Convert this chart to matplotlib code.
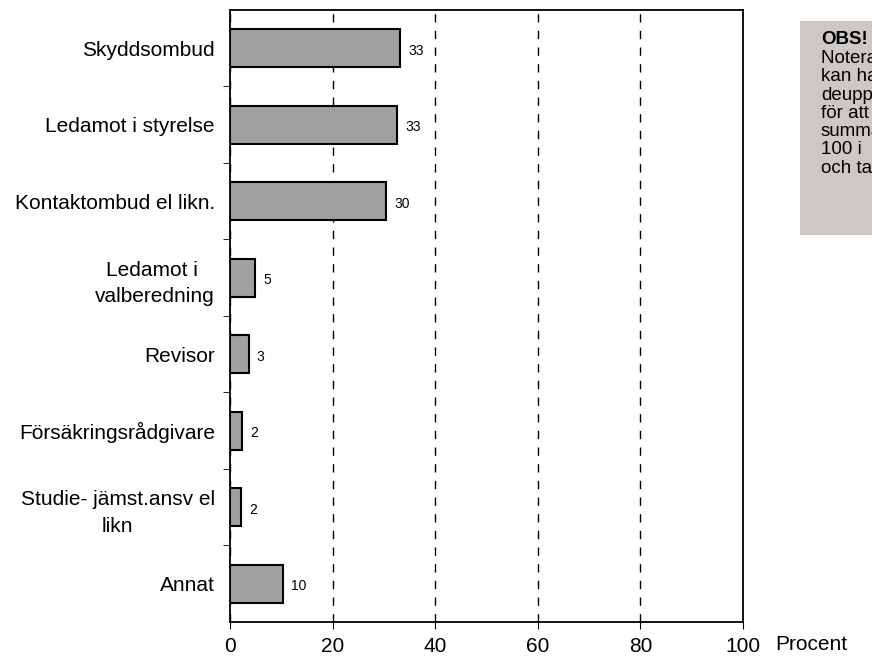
import numpy as np
import matplotlib.pyplot as plt
from matplotlib.patches import Rectangle

plt.rcParams['font.family'] = ['Liberation Sans', 'DejaVu Sans']

categories = ['Skyddsombud', 'Ledamot i styrelse', 'Kontaktombud el likn.',
              'Ledamot i \nvalberedning', 'Revisor', 'Försäkringsrådgivare',
              'Studie- jämst.ansv el\nlikn', 'Annat']
values = [33.2, 32.5, 30.5, 4.9, 3.6, 2.4, 2.1, 10.3]
labels = ['33', '33', '30', '5', '3', '2', '2', '10']
x_ticks = [0, 20, 40, 60, 80, 100]

fig = plt.figure(figsize=(8.72, 6.64), dpi=100)
ax = fig.add_axes([0.2638, 0.0633, 0.5883, 0.9217])

y_pos = np.arange(len(categories))
ax.barh(y_pos, values, height=0.5, color='#a0a0a0', edgecolor='black', linewidth=1.5, zorder=3)
for y, v, t in zip(y_pos, values, labels):
    ax.text(v + 1.6, y + 0.03, t, va='center', ha='left', fontsize=10)

ax.set_xlim(0, 100)
ax.set_ylim(len(categories) - 0.5, -0.5)
ax.set_xticks(x_ticks)
ax.set_xticklabels([str(t) for t in x_ticks], fontsize=15)
ax.tick_params(axis='x', direction='out', length=5, pad=6)

ax.set_yticks(y_pos)
ax.set_yticklabels(categories, fontsize=15, multialignment='center', linespacing=1.5)
ax.tick_params(axis='y', which='major', length=0, pad=11)
ax.set_yticks(np.arange(0.5, len(categories) - 1, 1), minor=True)
ax.tick_params(axis='y', which='minor', direction='out', length=5)

ax.xaxis.grid(True, linestyle=(0, (6, 6)), color='black', linewidth=1)
ax.set_axisbelow(True)
for s in ax.spines.values():
    s.set_linewidth(1.3)

fig.text(775 / 872, 1 - 644 / 664, 'Procent', fontsize=15, ha='left', va='center')

# note box, partly cut off at the right edge
fig.patches.append(Rectangle((800 / 872, 1 - 235 / 664), 0.2, 214 / 664,
                             transform=fig.transFigure, facecolor='#cbc8c6',
                             edgecolor='none', zorder=0))
note = ['Notera att man', 'kan ha flera', 'deuppdrag', 'för att', 'summan', '100 i', 'och tabell']
fig.text(821 / 872, 1 - 40 / 664, 'OBS!', fontsize=13.5, fontweight='bold', va='center', ha='left')
for i, line in enumerate(note):
    fig.text(821 / 872, 1 - (58.5 + 18.3 * i) / 664, line, fontsize=13.5, va='center', ha='left')

fig.savefig('out.png', dpi=100)
